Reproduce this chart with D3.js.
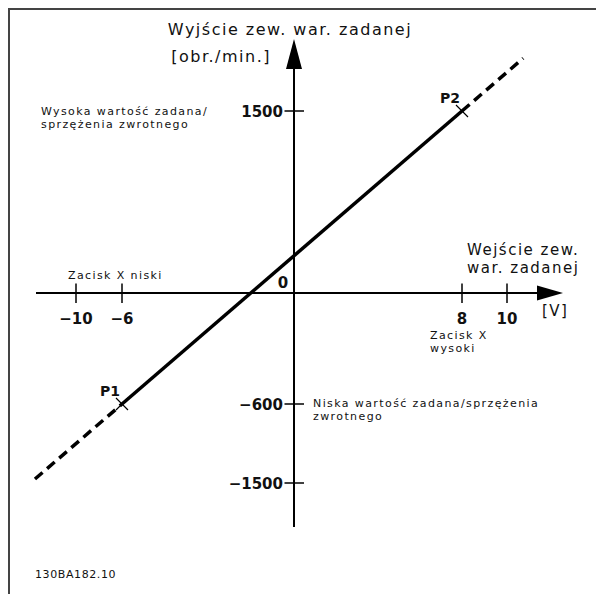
<!DOCTYPE html>
<html>
<head>
<meta charset="utf-8">
<script src="https://cdn.jsdelivr.net/npm/d3@7"></script>
<style>
  body { margin: 0; background: #fff; }
  text { font-family: "DejaVu Sans", Verdana, sans-serif; fill: #111; }
</style>
</head>
<body>
<div id="chart"></div>
<script>
// data
var xTicks = [-10, -6, 8, 10];
var yTicks = [1500, -600, -1500];
var pointNames = ["P1", "P2"];
var pointX = [-6, 8];
var pointY = [-600, 1500];

var svgwidth = 596;
var svgheight = 594;

var svg = d3.select("#chart").append("svg")
  .attr("width", svgwidth)
  .attr("height", svgheight);

// frame (only left and top edges visible)
svg.append("rect")
  .attr("x", 9).attr("y", 9)
  .attr("width", 640).attr("height", 640)
  .attr("fill", "none")
  .attr("stroke", "#444")
  .attr("stroke-width", 2);

// schematic scales (not to scale, piecewise)
var xscale = d3.scaleLinear()
  .domain([-10, -6, 0, 8, 10])
  .range([76, 122, 294, 462, 507]);

var yscale = d3.scaleLinear()
  .domain([-1500, -600, 0, 1500])
  .range([483, 404, 293, 111]);

var x0 = xscale(0);
var y0 = yscale(0);

// x axis
svg.append("line")
  .attr("x1", 36).attr("x2", 540)
  .attr("y1", y0).attr("y2", y0)
  .attr("stroke", "#000").attr("stroke-width", 2);
svg.append("path")
  .attr("d", `M537,${y0 - 7.5}L563,${y0}L537,${y0 + 7.5}Z`)
  .attr("fill", "#000");

// y axis
svg.append("line")
  .attr("x1", x0).attr("x2", x0)
  .attr("y1", 527).attr("y2", 66)
  .attr("stroke", "#000").attr("stroke-width", 2);
svg.append("path")
  .attr("d", `M${x0 - 8},69L${x0},39L${x0 + 8},69Z`)
  .attr("fill", "#000");

// x ticks
svg.selectAll(".xtick").data(xTicks).enter()
  .append("line")
  .attr("x1", d => xscale(d)).attr("x2", d => xscale(d))
  .attr("y1", y0 - 9.5).attr("y2", y0 + 10)
  .attr("stroke", "#000").attr("stroke-width", 1.5);

svg.selectAll(".xlab").data(xTicks).enter()
  .append("text")
  .attr("x", d => xscale(d))
  .attr("y", y0 + 31)
  .attr("text-anchor", "middle")
  .attr("font-size", "15px")
  .attr("font-weight", "bold")
  .text(d => (d < 0 ? "\u2212" + Math.abs(d) : d));

// y ticks
svg.selectAll(".ytick").data(yTicks).enter()
  .append("line")
  .attr("x1", x0 - 9.5).attr("x2", x0 + 10)
  .attr("y1", d => yscale(d)).attr("y2", d => yscale(d))
  .attr("stroke", "#000").attr("stroke-width", 1.5);

svg.selectAll(".ylab").data(yTicks).enter()
  .append("text")
  .attr("x", x0 - 11)
  .attr("y", d => yscale(d) + 5.5)
  .attr("text-anchor", "end")
  .attr("font-size", "15px")
  .attr("font-weight", "bold")
  .text(d => (d < 0 ? "\u2212" + Math.abs(d) : d));

svg.append("text")
  .attr("x", x0 - 11).attr("y", y0 - 5)
  .attr("text-anchor", "middle")
  .attr("font-size", "15px")
  .attr("font-weight", "bold")
  .text("0");

// characteristic line
var pts = pointX.map((x, i) => [xscale(x), yscale(pointY[i])]);
var dx = pts[1][0] - pts[0][0];
var dy = pts[1][1] - pts[0][1];
var lo = [pts[0][0] - 0.256 * dx, pts[0][1] - 0.256 * dy];
var hi = [pts[1][0] + 0.18 * dx, pts[1][1] + 0.18 * dy];

var line = d3.line();

svg.append("path")
  .attr("d", line([pts[0], pts[1]]))
  .attr("stroke", "#000").attr("stroke-width", 3.5)
  .attr("fill", "none");

svg.append("path")
  .attr("d", line([lo, pts[0]]))
  .attr("stroke", "#000").attr("stroke-width", 3.5)
  .attr("stroke-dasharray", "10,6")
  .attr("fill", "none");

svg.append("path")
  .attr("d", line([pts[1], hi]))
  .attr("stroke", "#000").attr("stroke-width", 3.5)
  .attr("stroke-dasharray", "10,6")
  .attr("fill", "none");

// crosses at P1, P2
pts.forEach(function(p) {
  svg.append("path")
    .attr("d", `M${p[0] - 6},${p[1] - 6}L${p[0] + 6},${p[1] + 6}M${p[0] - 6},${p[1] + 6}L${p[0] + 6},${p[1] - 6}`)
    .attr("stroke", "#000").attr("stroke-width", 1.2);
});

svg.selectAll(".plab").data(pointNames).enter()
  .append("text")
  .attr("x", (d, i) => pts[i][0] - 22)
  .attr("y", (d, i) => pts[i][1] - 8)
  .attr("font-size", "14px")
  .attr("font-weight", "bold")
  .text(d => d);

// labels
function label(x, y, size, spacing, lines, anchor) {
  var t = svg.append("text")
    .attr("x", x).attr("y", y)
    .attr("font-size", size + "px")
    .attr("letter-spacing", spacing)
    .attr("text-anchor", anchor || "start");
  lines.forEach(function(s, i) {
    t.append("tspan").attr("x", x).attr("dy", i ? size * 1.2 : 0).text(s);
  });
}

label(290, 35, 16, 1.5, ["Wyjście zew. war. zadanej"], "middle");
label(271, 62, 16, 1.5, ["[obr./min.]"], "end");
label(41, 115, 11, 1.4, ["Wysoka wartość zadana/", "sprzężenia zwrotnego"]);
label(68, 279, 11, 1.4, ["Zacisk X niski"]);
label(467, 255, 15, 1.5, ["Wejście zew.", "war. zadanej"]);
label(542, 316, 15, 1.5, ["[V]"]);
label(430, 339, 11, 1.4, ["Zacisk X", "wysoki"]);
label(313, 407, 11, 1.4, ["Niska wartość zadana/sprzężenia", "zwrotnego"]);
label(35, 578, 11, 0.6, ["130BA182.10"]);
</script>
</body>
</html>
